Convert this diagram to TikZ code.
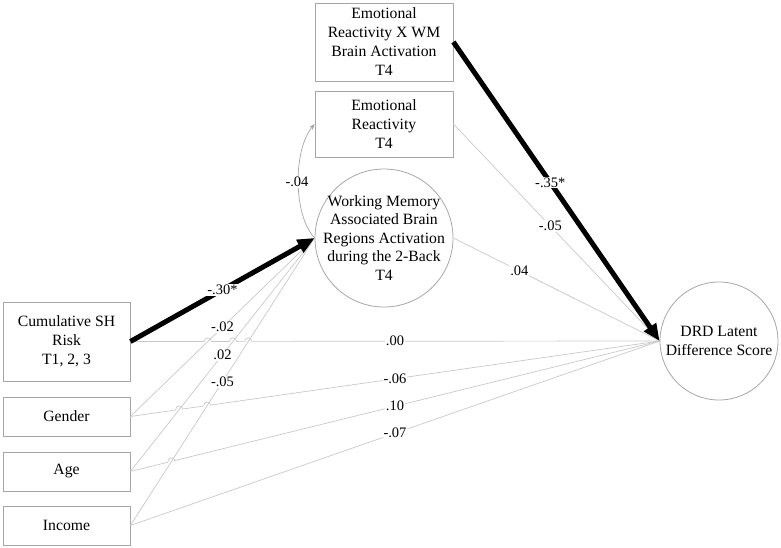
\documentclass[tikz,border=0pt]{standalone}
\usepackage{fontspec}
\setmainfont{Liberation Serif}
\usetikzlibrary{arrows.meta,intersections}
\definecolor{boxc}{HTML}{A6A6A6}
\definecolor{linec}{HTML}{C8C8C8}
\begin{document}
\begin{tikzpicture}[x=1pt,y=-1pt,
  box/.style={draw=boxc, line width=0.8pt, fill=white, align=center, inner sep=0pt,
              font=\fontsize{15.7}{19}\selectfont, text=black},
  circ/.style={draw=boxc, line width=0.8pt, circle, inner sep=0pt},
  ctext/.style={align=center, font=\fontsize{15.7}{18.5}\selectfont, inner sep=0pt, text=black},
  faint/.style={draw=linec, line width=0.7pt},
  heavy/.style={draw=black, line width=5pt, -{Triangle[length=17pt,width=14pt]}},
  lab/.style={fill=white, inner sep=1pt, font=\fontsize{14.5}{16}\selectfont, text=black},
  hopw/.style={fill=white},
]
\useasboundingbox (0,0) rectangle (781,548);

% nodes
\node[box, minimum width=127pt, minimum height=79pt] (cum) at (66.5,341.5) {Cumulative SH\\Risk\\T1, 2, 3};
\node[box, minimum width=127pt, minimum height=39pt] (gen) at (66.5,416.5) {Gender};
\node[box, minimum width=127pt, minimum height=39pt] (age) at (66.5,471.5) {Age};
\node[box, minimum width=127pt, minimum height=39pt] (inc) at (66.5,525.5) {Income};
\node[box, minimum width=138pt, minimum height=78pt] (int) at (384,42) {Emotional\\Reactivity X WM\\Brain Activation\\T4};
\node[box, minimum width=138pt, minimum height=66pt] (er) at (384,124) {Emotional\\Reactivity\\T4};
\node[circ, minimum size=138pt] (wm) at (384,238) {};
\node[ctext] (wmtext) at (wm.center) {Working Memory\\Associated Brain\\Regions Activation\\during the 2-Back\\T4};
\node[circ, minimum size=118pt] (drd) at (719,341) {};
\node[ctext] (drdtext) at (drd.center) {DRD Latent\\Difference Score};

% thin paths to DRD (these hop over the steep ones)
\draw[faint, name path=cd] (cum.east) -- (drd.west);
\draw[faint, name path=gd] (gen.east) -- (drd.west);
\draw[faint, name path=ad] (age.east) -- (drd.west);
\draw[faint, name path=id] (inc.east) -- (drd.west);
\draw[faint] (er.east) -- (drd.west);
\draw[faint] (wm.east) -- (drd.west);

% steep path geometry for intersections
\path[name path=gw] (gen.east) -- (wm.west);
\path[name path=aw] (age.east) -- (wm.west);
\path[name path=iw] (inc.east) -- (wm.west);

\path[name intersections={of=cd and gw, by=h1}];
\path[name intersections={of=cd and aw, by=h2}];
\path[name intersections={of=cd and iw, by=h3}];
\path[name intersections={of=gd and aw, by=h4}];
\path[name intersections={of=gd and iw, by=h5}];
\path[name intersections={of=ad and iw, by=h6}];

\foreach \h in {h1,h2,h3,h4,h5,h6} {\fill[hopw] (\h) circle (3.6pt);}

\draw[faint] (gen.east) -- (wm.west);
\draw[faint] (age.east) -- (wm.west);
\draw[faint] (inc.east) -- (wm.west);

\foreach \h in {h1,h2,h3,h4,h5,h6} {\draw[faint] ([xshift=-3.6pt]\h) arc[start angle=180, end angle=0, radius=3.6pt];}

% covariance curve
\draw[faint, -{Stealth[length=6pt,width=4.5pt]}, draw=boxc] (wm.west) .. controls (293,215) and (293,150) .. (er.west);

% heavy paths
\draw[heavy] (cum.east) -- (wm.west);
\draw[heavy] (int.east) -- (drd.west);

% labels
\path (cum.east) -- (wm.west) node[lab, pos=0.5] (l1) {-.30*};
\path (gen.east) -- (wm.west) node[lab, pos=0.5] (l2) {-.02};
\path (age.east) -- (wm.west) node[lab, pos=0.5] (l3) {.02};
\path (inc.east) -- (wm.west) node[lab, pos=0.5] (l4) {-.05};
\path (cum.east) -- (drd.west) node[lab, pos=0.5] (l5) {.00};
\path (gen.east) -- (drd.west) node[lab, pos=0.5] (l6) {-.06};
\path (age.east) -- (drd.west) node[lab, pos=0.5] (l7) {.10};
\path (inc.east) -- (drd.west) node[lab, pos=0.5] (l8) {-.07};
\path (int.east) -- (drd.west) node[lab, pos=0.47] (l9) {-.35*};
\path (er.east) -- (drd.west) node[lab, pos=0.47] (l10) {-.05};
\path (wm.east) -- (drd.west) node[lab, pos=0.32] (l11) {.04};
\node[lab] (l12) at (297,182) {-.04};
\end{tikzpicture}
\end{document}
